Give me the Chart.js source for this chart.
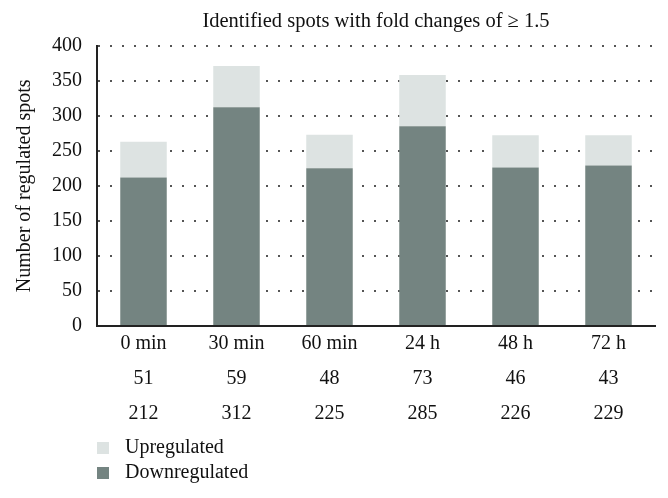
<!DOCTYPE html>
<html>
<head>
<meta charset="utf-8">
<script src="https://cdn.jsdelivr.net/npm/chart.js@4"></script>
<style>
  html, body { margin: 0; padding: 0; background: #ffffff; }
  #wrap { width: 668px; height: 498px; }
</style>
</head>
<body>
<div id="wrap"><canvas id="c" width="668" height="498"></canvas></div>
<script>
const categories = ['0 min', '30 min', '60 min', '24 h', '48 h', '72 h'];
const upregulated = [51, 59, 48, 73, 46, 43];
const downregulated = [212, 312, 225, 285, 226, 229];
const yTicks = [0, 50, 100, 150, 200, 250, 300, 350, 400];

const FONT = "'Liberation Serif', 'Times New Roman', serif";
const DARK = '#748481';
const LIGHT = '#dde3e2';

const labels = categories.map((c, i) => [c, String(upregulated[i]), String(downregulated[i])]);

const stackLegend = {
  id: 'stackLegend',
  afterDraw(chart) {
    const ctx = chart.ctx;
    const left = chart.chartArea.left;
    const base = chart.scales.x.bottom;
    const items = [
      { text: chart.data.datasets[1].label, color: chart.data.datasets[1].backgroundColor },
      { text: chart.data.datasets[0].label, color: chart.data.datasets[0].backgroundColor }
    ];
    ctx.save();
    ctx.font = '20px ' + FONT;
    ctx.textBaseline = 'middle';
    ctx.textAlign = 'left';
    items.forEach((it, i) => {
      const cy = base + 17 + i * 25;
      ctx.fillStyle = it.color;
      ctx.fillRect(left, cy - 6, 12, 12);
      ctx.fillStyle = '#111';
      ctx.fillText(it.text, left + 28, cy);
    });
    ctx.restore();
  }
};

new Chart(document.getElementById('c'), {
  type: 'bar',
  data: {
    labels: labels,
    datasets: [
      { label: 'Downregulated', data: downregulated, backgroundColor: DARK, borderWidth: 0, stack: 's' },
      { label: 'Upregulated', data: upregulated, backgroundColor: LIGHT, borderWidth: 0, stack: 's' }
    ]
  },
  options: {
    responsive: false,
    animation: false,
    devicePixelRatio: 1,
    layout: { padding: { left: 5, right: 13, top: 0, bottom: 67 } },
    datasets: { bar: { barPercentage: 0.5, categoryPercentage: 1.0 } },
    plugins: {
      legend: { display: false },
      tooltip: { enabled: false },
      title: {
        display: true,
        text: 'Identified spots with fold changes of \u2265 1.5',
        fullSize: false,
        color: '#111',
        font: { family: FONT, size: 20.5, weight: 'normal' },
        padding: { top: 9, bottom: 12 }
      }
    },
    scales: {
      x: {
        stacked: true,
        grid: { display: false, drawTicks: false },
        border: { display: true, color: '#222', width: 2 },
        ticks: {
          color: '#111',
          padding: 0,
          maxRotation: 0,
          autoSkip: false,
          font: { family: FONT, size: 20, lineHeight: '35px' }
        }
      },
      y: {
        stacked: true,
        min: 0,
        max: 400,
        afterBuildTicks(scale) { scale.ticks = yTicks.map(v => ({ value: v })); },
        grid: { color: '#555', lineWidth: 2, drawTicks: false },
        border: { display: true, color: '#222', width: 2, dash: [2, 10] },
        ticks: {
          color: '#111',
          padding: 15,
          font: { family: FONT, size: 20 }
        },
        title: {
          display: true,
          text: 'Number of regulated spots',
          color: '#111',
          font: { family: FONT, size: 20, weight: 'normal' },
          padding: { top: 8, bottom: 0 }
        }
      }
    }
  },
  plugins: [stackLegend]
});
</script>
</body>
</html>
